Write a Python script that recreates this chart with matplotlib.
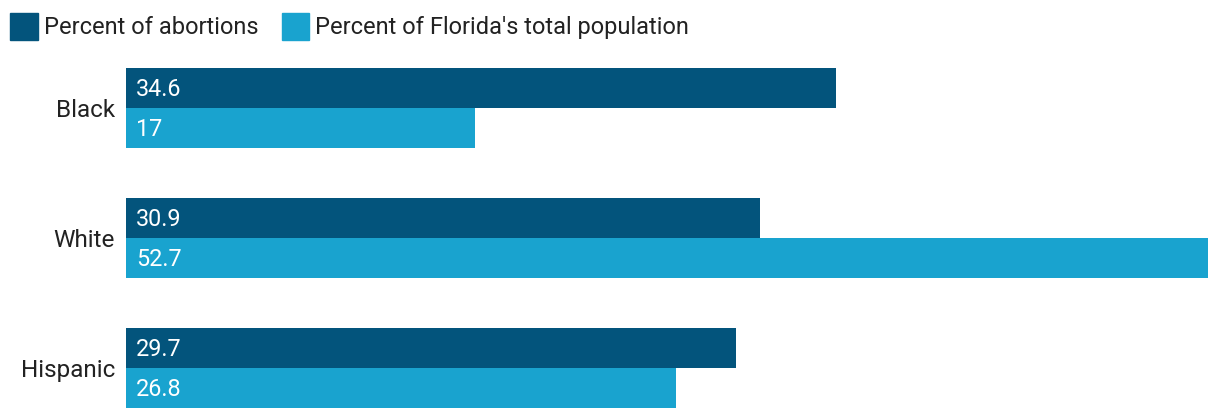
import matplotlib.pyplot as plt
from matplotlib.patches import Patch

plt.rcParams['font.family'] = ['Roboto', 'DejaVu Sans']

categories = ["Black", "White", "Hispanic"]
abortions = [34.6, 30.9, 29.7]
population = [17, 52.7, 26.8]
abortions_labels = ["34.6", "30.9", "29.7"]
population_labels = ["17", "52.7", "26.8"]

dark = "#03547c"
light = "#19a3cf"

fig = plt.figure(figsize=(12.2, 4.2), dpi=100)
ax = fig.add_axes([126 / 1220, 12 / 420, 1082 / 1220, 340 / 420])

h = 40 / 130
pos = list(range(len(categories)))
ax.barh([p - h / 2 for p in pos], abortions, height=h, color=dark)
ax.barh([p + h / 2 for p in pos], population, height=h, color=light)

for p, a, b, la, lb in zip(pos, abortions, population, abortions_labels, population_labels):
    ax.annotate(la, (0, p - h / 2), xytext=(10, -2), textcoords="offset pixels",
                color="white", fontsize=16.8, va="center", ha="left")
    ax.annotate(lb, (0, p + h / 2), xytext=(10, -2), textcoords="offset pixels",
                color="white", fontsize=16.8, va="center", ha="left")

ax.set_xlim(0, 52.7)
ax.set_ylim(2 + h, -h)
ax.set_yticks(pos)
ax.set_yticklabels(categories, fontsize=17.5, color="#222222")
ax.tick_params(axis="y", length=0, pad=8)
ax.set_xticks([])
for s in ax.spines.values():
    s.set_visible(False)

handles = [Patch(color=dark, label="Percent of abortions"),
           Patch(color=light, label="Percent of Florida's total population")]
leg = fig.legend(handles=handles, loc="upper left", bbox_to_anchor=(10 / 1220, 1 - 13 / 420),
                 ncol=2, frameon=False, fontsize=17.0, handlelength=1.17, handleheight=1.4,
                 handletextpad=0.25, columnspacing=1.0, borderpad=0, borderaxespad=0)
for t in leg.get_texts():
    t.set_color("#222222")

fig.savefig("out.png", dpi=100)
